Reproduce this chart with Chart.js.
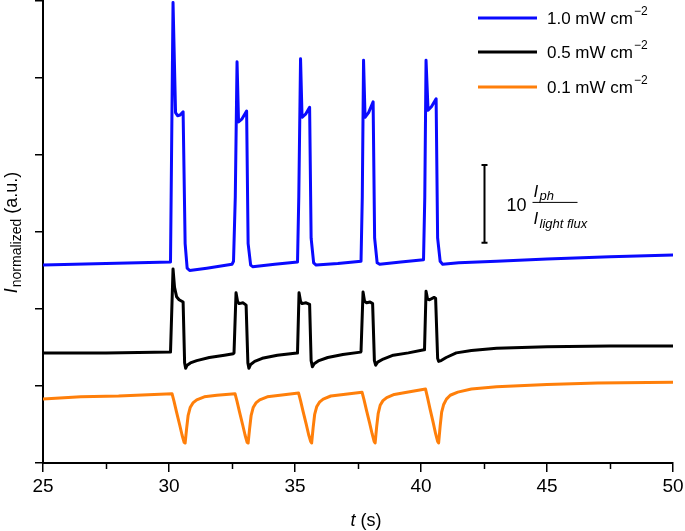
<!DOCTYPE html>
<html>
<head>
<meta charset="utf-8">
<script src="https://cdn.jsdelivr.net/npm/chart.js@4.4.1/dist/chart.umd.min.js"></script>
<style>
html,body{margin:0;padding:0;background:#fff;}
canvas{display:block;}
</style>
</head>
<body>
<canvas id="c" width="685" height="531"></canvas>
<script>
// ---- data (t in s, normalized current in a.u.) ----
const seriesLabels = ['1.0 mW cm', '0.5 mW cm', '0.1 mW cm'];
const seriesColors = ['#0a0aff', '#000000', '#ff7f0a'];
const xTicks = [25, 30, 35, 40, 45, 50];

const blueT = [25.0,27.5,30.06,30.16,30.26,30.34,30.44,30.56,30.64,30.72,30.82,31.5,32.50,32.56,32.63,32.70,32.76,32.90,33.08,33.14,33.24,33.32,34.2,35.10,35.15,35.22,35.28,35.42,35.58,35.64,35.74,35.84,36.7,37.62,37.67,37.72,37.78,37.92,38.10,38.16,38.26,38.36,39.2,40.10,40.15,40.20,40.28,40.42,40.60,40.66,40.76,40.86,41.5,43.0,45.0,47.5,50.0];
const blueV = [2.57,2.59,2.61,5.98,4.55,4.51,4.52,4.56,2.85,2.53,2.50,2.53,2.58,2.62,3.45,5.21,4.43,4.47,4.57,2.85,2.57,2.55,2.58,2.61,3.45,5.25,4.49,4.53,4.62,2.92,2.60,2.57,2.59,2.62,3.45,5.23,4.49,4.55,4.69,2.92,2.60,2.58,2.61,2.64,3.45,5.23,4.58,4.63,4.73,2.92,2.62,2.58,2.60,2.62,2.65,2.68,2.70];

const blackT = [25.0,27.5,30.06,30.16,30.22,30.30,30.40,30.56,30.62,30.66,30.72,30.85,31.1,31.6,32.2,32.55,32.58,32.66,32.72,32.78,32.94,33.06,33.13,33.17,33.24,33.4,33.7,34.3,35.08,35.10,35.16,35.22,35.28,35.44,35.58,35.64,35.69,35.76,35.95,36.3,36.9,37.60,37.62,37.70,37.76,37.84,37.98,38.08,38.15,38.20,38.28,38.5,38.9,39.5,40.12,40.14,40.20,40.26,40.34,40.52,40.58,40.66,40.70,40.80,41.0,41.4,42.0,43.0,45.0,47.5,50.0];
const blackV = [1.43,1.43,1.44,2.52,2.28,2.16,2.12,2.09,1.30,1.23,1.27,1.30,1.33,1.37,1.40,1.42,1.43,2.21,2.10,2.07,2.08,2.05,1.30,1.23,1.28,1.32,1.36,1.40,1.43,1.44,2.21,2.10,2.07,2.08,2.06,1.33,1.25,1.29,1.33,1.37,1.41,1.44,1.45,2.22,2.10,2.08,2.09,2.07,1.33,1.27,1.31,1.35,1.40,1.43,1.47,1.48,2.23,2.13,2.12,2.15,2.14,1.36,1.32,1.33,1.37,1.43,1.46,1.49,1.51,1.52,1.52];

const orangeT = [25.0,26.5,28.0,30.12,30.20,30.30,30.42,30.52,30.60,30.64,30.70,30.76,30.84,30.95,31.1,31.4,31.9,32.62,32.70,32.80,32.92,33.02,33.10,33.14,33.20,33.26,33.34,33.45,33.6,33.9,34.4,35.14,35.22,35.32,35.44,35.54,35.62,35.66,35.72,35.78,35.86,35.97,36.12,36.42,36.92,37.66,37.74,37.84,37.96,38.06,38.14,38.18,38.24,38.30,38.38,38.49,38.64,38.94,39.44,40.18,40.26,40.36,40.48,40.58,40.66,40.70,40.76,40.82,40.90,41.01,41.16,41.46,42.0,43.0,45.0,47.0,50.0];
const orangeV = [0.83,0.86,0.87,0.90,0.80,0.66,0.50,0.36,0.27,0.26,0.45,0.62,0.72,0.78,0.82,0.86,0.88,0.90,0.80,0.66,0.50,0.36,0.27,0.26,0.45,0.62,0.72,0.78,0.82,0.86,0.88,0.91,0.81,0.67,0.51,0.37,0.28,0.26,0.46,0.63,0.73,0.79,0.83,0.87,0.89,0.92,0.82,0.68,0.52,0.38,0.28,0.26,0.47,0.64,0.75,0.81,0.85,0.89,0.92,0.96,0.85,0.70,0.53,0.38,0.28,0.26,0.48,0.66,0.76,0.83,0.88,0.92,0.96,0.99,1.02,1.04,1.05];

const toXY = (ts, vs) => ts.map((t, i) => ({x: t, y: vs[i]}));
const FONT = "'Liberation Sans', Arial, Helvetica, sans-serif";

const overlay = {
  id: 'overlay',
  afterDraw(chart) {
    const ctx = chart.ctx;
    const xs = chart.scales.x, ys = chart.scales.y;
    const bottom = chart.chartArea.bottom;
    ctx.save();
    ctx.strokeStyle = '#000';
    ctx.fillStyle = '#000';
    // minor x ticks
    ctx.lineWidth = 1.5;
    for (let i = 0; i < xTicks.length - 1; i++) {
      const px = Math.round(xs.getPixelForValue((xTicks[i] + xTicks[i+1]) / 2)) + 0.5;
      ctx.beginPath(); ctx.moveTo(px, bottom); ctx.lineTo(px, bottom + 6); ctx.stroke();
    }
    // y axis title (rotated) I_normalized (a.u.)
    ctx.save();
    ctx.translate(17, 233);
    ctx.rotate(-Math.PI / 2);
    ctx.textBaseline = 'alphabetic';
    ctx.textAlign = 'left';
    const p1 = 'I', p2 = 'normalized', p3 = ' (a.u.)';
    ctx.font = 'italic 18px ' + FONT; const w1 = ctx.measureText(p1).width;
    ctx.font = '14px ' + FONT; const w2 = ctx.measureText(p2).width;
    ctx.font = '18px ' + FONT; const w3 = ctx.measureText(p3).width;
    let x0 = -(w1 + w2 + w3) / 2;
    ctx.font = 'italic 18px ' + FONT; ctx.fillText(p1, x0, 0);
    ctx.font = '14px ' + FONT; ctx.fillText(p2, x0 + w1 + 1, 4);
    ctx.font = '18px ' + FONT; ctx.fillText(p3, x0 + w1 + w2 + 1, 0);
    ctx.restore();
    // x axis title: t (s)
    {
      ctx.textBaseline = 'alphabetic';
      ctx.font = 'italic 18px ' + FONT; const a = ctx.measureText('t').width;
      ctx.font = '18px ' + FONT; const b = ctx.measureText(' (s)').width;
      const cx = (xs.left + xs.right) / 2 + 8;
      let sx = cx - (a + b) / 2;
      ctx.font = 'italic 18px ' + FONT; ctx.fillText('t', sx, 526);
      ctx.font = '18px ' + FONT; ctx.fillText(' (s)', sx + a, 526);
    }
    // legend
    const legY = [18, 52, 87];
    for (let i = 0; i < seriesLabels.length; i++) {
      ctx.strokeStyle = seriesColors[i];
      ctx.lineWidth = 3;
      ctx.beginPath(); ctx.moveTo(478, legY[i]); ctx.lineTo(537, legY[i]); ctx.stroke();
      ctx.fillStyle = '#000';
      ctx.font = '17px ' + FONT;
      ctx.textBaseline = 'middle';
      ctx.fillText(seriesLabels[i], 547, legY[i] + 1);
      const w = ctx.measureText(seriesLabels[i]).width;
      ctx.font = '12px ' + FONT;
      ctx.fillText('\u22122', 547 + w + 1, legY[i] - 6);
    }
    // scale bar
    const bx = Math.round(xs.getPixelForValue(42.5)) + 0.5;
    const by1 = ys.getPixelForValue(3.87), by2 = ys.getPixelForValue(2.86);
    ctx.strokeStyle = '#000'; ctx.lineWidth = 2;
    ctx.beginPath();
    ctx.moveTo(bx, by1); ctx.lineTo(bx, by2);
    ctx.moveTo(bx - 3, by1); ctx.lineTo(bx + 3, by1);
    ctx.moveTo(bx - 3, by2); ctx.lineTo(bx + 3, by2);
    ctx.stroke();
    const midY = (by1 + by2) / 2 - 2;
    ctx.textBaseline = 'middle';
    ctx.font = '18px ' + FONT;
    ctx.fillText('10', bx + 22, midY + 4);
    const fx = bx + 48;
    ctx.lineWidth = 1;
    ctx.beginPath(); ctx.moveTo(fx, midY + 0.5); ctx.lineTo(fx + 45, midY + 0.5); ctx.stroke();
    ctx.textBaseline = 'alphabetic';
    ctx.font = 'italic 17px ' + FONT;
    ctx.fillText('I', fx + 1, midY - 5);
    ctx.font = 'italic 13px ' + FONT;
    ctx.fillText('ph', fx + 7, midY - 2);
    ctx.font = 'italic 17px ' + FONT;
    ctx.fillText('I', fx + 1, midY + 22);
    ctx.font = 'italic 13px ' + FONT;
    ctx.fillText('light flux', fx + 7, midY + 26);
    ctx.restore();
  }
};

new Chart(document.getElementById('c'), {
  type: 'line',
  data: {
    datasets: [
      {label: seriesLabels[0], data: toXY(blueT, blueV), borderColor: seriesColors[0]},
      {label: seriesLabels[1], data: toXY(blackT, blackV), borderColor: seriesColors[1]},
      {label: seriesLabels[2], data: toXY(orangeT, orangeV), borderColor: seriesColors[2]}
    ]
  },
  options: {
    responsive: false,
    animation: false,
    devicePixelRatio: 1,
    layout: {padding: {top: 1, right: 12, left: 0, bottom: 0}},
    elements: {
      line: {borderWidth: 3, tension: 0, borderJoinStyle: 'round', borderCapStyle: 'round'},
      point: {radius: 0}
    },
    plugins: {legend: {display: false}, tooltip: {enabled: false}},
    scales: {
      x: {
        type: 'linear', min: 25, max: 50,
        afterBuildTicks: s => { s.ticks = xTicks.map(v => ({value: v})); },
        afterFit: s => { s.height = 68; s.paddingLeft = 0; s.paddingRight = 0; },
        ticks: {color: '#000', font: {family: FONT, size: 19}, padding: 3, maxRotation: 0},
        grid: {drawOnChartArea: false, drawTicks: true, tickLength: 9, color: '#000', lineWidth: 1.5},
        border: {color: '#000', width: 2}
      },
      y: {
        min: 0, max: 6,
        afterFit: s => { s.width = 43; s.paddingTop = 0; s.paddingBottom = 0; },
        ticks: {stepSize: 1, callback: () => '', padding: 0},
        grid: {drawOnChartArea: false, drawTicks: true, tickLength: 8, color: '#000', lineWidth: 1.5},
        border: {color: '#000', width: 2}
      }
    }
  },
  plugins: [overlay]
});
</script>
</body>
</html>
